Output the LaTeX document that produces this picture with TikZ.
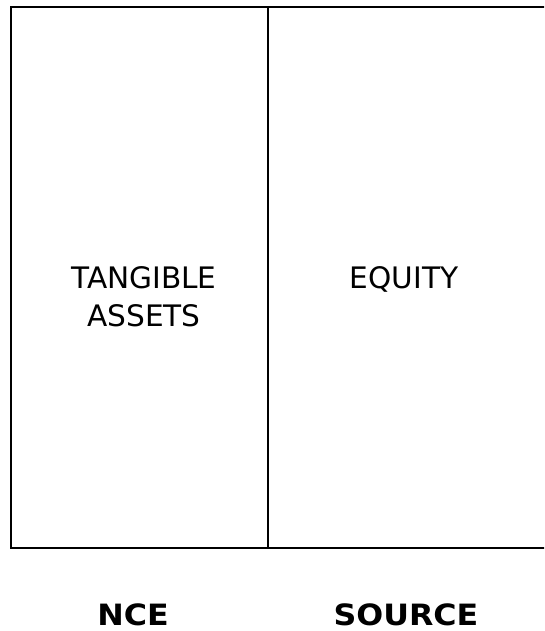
\documentclass[tikz,border=0pt]{standalone}
\usepackage{fontspec}
\setmainfont{DejaVu Sans}
\newfontfamily\capfont{DejaVu Sans Bold}[FakeStretch=1.08]
\usetikzlibrary{positioning}

\begin{document}
\begin{tikzpicture}[
  x=0.75pt, y=-0.75pt,
  cell/.style={align=center, font=\fontsize{22.2}{28.5}\selectfont, inner sep=0pt},
  colcap/.style={font=\capfont\fontsize{22}{25}\selectfont, inner sep=0pt}
]
\useasboundingbox (0,0) rectangle (544,631);
\clip (0,0) rectangle (544,631);
% frame, open on the right
\draw[line width=1.8pt] (560,7) -| (11,548) -- (560,548);
\coordinate (top) at (268,7);
\coordinate (bot) at (268,548);
\draw[line width=1.8pt] (top) -- (bot);
% cell texts
\node[cell, anchor=base] (tang) at (144,326) {TANGIBLE\\ASSETS};
\node[cell, anchor=base] (eq) at (404,288) {EQUITY};
% column captions
\node[colcap, anchor=base] (nce) at (133,625) {NCE};
\node[colcap, anchor=base] (src) at (406,625) {SOURCE};
\end{tikzpicture}
\end{document}
